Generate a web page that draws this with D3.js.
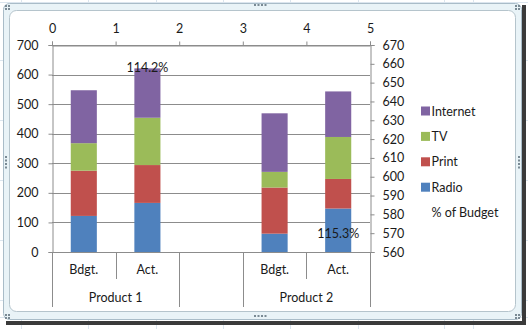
<!DOCTYPE html>
<html><head><meta charset="utf-8">
<script src="https://cdn.jsdelivr.net/npm/d3@7/dist/d3.min.js"></script>
<style>
html,body{margin:0;padding:0;background:#fff;}
svg{display:block;font-family:Lato,"Open Sans",sans-serif;}
</style></head>
<body>
<svg id="c" width="528" height="329"></svg>
<script>
// ---- data ----
const categories = ["Bdgt.", "Act.", "", "Bdgt.", "Act."];
const products = [
  {name: "Product 1", from: 0, to: 2},
  {name: "", from: 2, to: 3},
  {name: "Product 2", from: 3, to: 5}
];
const seriesNames = ["Radio", "Print", "TV", "Internet"];
const seriesColors = ["#4F81BD", "#C0504D", "#9BBB59", "#8064A2"];
const radio    = [122, 166, 0, 62, 147];
const print    = [153, 128, 0, 156, 100];
const tv       = [93, 160, 0, 53, 142];
const internet = [179, 167, 0, 198, 154];
const leftTicks = [0, 100, 200, 300, 400, 500, 600, 700];
const rightTicks = [560, 570, 580, 590, 600, 610, 620, 630, 640, 650, 660, 670];
const topTicks = [0, 1, 2, 3, 4, 5];
const pctX = [1.5, 4.5];
const pctY = [658, 570];
const pctLabels = ["114.2%", "115.3%"];
const legendOrder = ["Internet", "TV", "Print", "Radio"];

const svg = d3.select("#c");

// ---- worksheet background ----
const grid = svg.append("g").attr("stroke", "#dbe5ee").attr("stroke-width", 1);
[21, 88, 156, 223, 290, 358, 444, 473].forEach(x =>
  grid.append("line").attr("x1", x + .5).attr("x2", x + .5).attr("y1", 0).attr("y2", 329));
[2, 60, 120, 180, 240, 300, 317].forEach(y =>
  grid.append("line").attr("x1", 0).attr("x2", 528).attr("y1", y + .5).attr("y2", y + .5));

// shadow
svg.append("rect").attr("x", 6).attr("y", 321).attr("width", 520).attr("height", 4).attr("fill", "#3a3a3a");
svg.append("rect").attr("x", 522).attr("y", 5).attr("width", 4).attr("height", 320).attr("fill", "#3a3a3a");
// selection frame
svg.append("rect").attr("x", 3.5).attr("y", 3.5).attr("width", 518).attr("height", 316)
  .attr("rx", 6).attr("fill", "#e9f3f7").attr("stroke", "#a9bcc8");
// chart area
svg.append("rect").attr("x", 9.5).attr("y", 10.5).attr("width", 506).attr("height", 301)
  .attr("rx", 7).attr("fill", "#fff").attr("stroke", "#b5c4cc");
// handle dots
const dots = svg.append("g").attr("fill", "#7a8a94");
[[254, 4], [254, 315]].forEach(([x, y]) => { for (let i = 0; i < 4; i++) dots.append("rect").attr("x", x + i * 3.5).attr("y", y).attr("width", 2).attr("height", 2); });
[[5, 156], [518, 156]].forEach(([x, y]) => { for (let i = 0; i < 4; i++) dots.append("rect").attr("x", x).attr("y", y + i * 3.5).attr("width", 2).attr("height", 2); });
[[5, 5], [515, 5], [5, 314], [515, 314]].forEach(([x, y]) => {
  [[0, 0], [3, 0], [0, 3], [3, 3]].forEach(([dx, dy]) => dots.append("rect").attr("x", x + dx).attr("y", y + dy).attr("width", 2).attr("height", 2));
});

// ---- scales ----
const L = 52, R = 370, T = 45, B = 252;
const y = d3.scaleLinear().domain([0, 700]).range([B, T]);
const y2 = d3.scaleLinear().domain([560, 670]).range([B, T]);
const x2 = d3.scaleLinear().domain([0, 5]).range([L, R]);
const xb = d3.scaleBand().domain(d3.range(categories.length)).range([L, R]).padding(0);
const barW = xb.bandwidth() * 0.41;

const textCol = "#1a1a1a";
const gridCol = "#8c8c8c";

// gridlines
svg.append("g").selectAll("line").data(leftTicks).join("line")
  .attr("x1", L).attr("x2", R).attr("y1", d => Math.round(y(d)) + .5).attr("y2", d => Math.round(y(d)) + .5)
  .attr("stroke", gridCol).attr("stroke-width", 1);

// ---- bars ----
const table = categories.map((c, i) => ({i, Radio: radio[i], Print: print[i], TV: tv[i], Internet: internet[i]}));
const stack = d3.stack().keys(seriesNames)(table);
const color = d3.scaleOrdinal().domain(seriesNames).range(seriesColors);
svg.append("g").selectAll("g").data(stack).join("g").attr("fill", d => color(d.key))
  .selectAll("rect").data(d => d.filter(p => p[1] > p[0])).join("rect")
  .attr("x", p => xb(p.data.i) + (xb.bandwidth() - barW) / 2)
  .attr("width", barW)
  .attr("y", p => y(p[1]))
  .attr("height", p => y(p[0]) - y(p[1]));

// ---- left axis ----
const gl = svg.append("g").attr("transform", `translate(${L + .5},0)`)
  .call(d3.axisLeft(y).tickValues(leftTicks).tickSize(4).tickPadding(10));
// ---- right axis ----
const gr = svg.append("g").attr("transform", `translate(${R + .5},0)`)
  .call(d3.axisRight(y2).tickValues(rightTicks).tickSize(4).tickPadding(8));
// ---- top axis ----
const gt = svg.append("g").attr("transform", `translate(0,${T + .5})`)
  .call(d3.axisTop(x2).tickValues(topTicks).tickSize(4).tickPadding(9).tickFormat(d3.format("d")));
// ---- bottom category axis ----
const gb = svg.append("g").attr("transform", `translate(0,${B + .5})`)
  .call(d3.axisBottom(xb).tickSize(0).tickPadding(13).tickFormat(i => categories[i]));

[gl, gr, gt, gb].forEach(g => {
  g.select(".domain").attr("stroke", gridCol);
  g.selectAll(".tick line").attr("stroke", gridCol);
  g.selectAll("text").attr("fill", textCol).attr("font-size", 12.5).attr("font-family", "Lato, sans-serif");
});
gb.select(".domain").attr("d", `M${L},0H${R}`);

// category separators
const sep = svg.append("g").attr("stroke", gridCol);
const inner = [];
products.forEach(p => { for (let k = p.from + 1; k < p.to; k++) inner.push(k); });
const outer = [0].concat(products.map(p => p.to));
sep.selectAll("line.o").data(outer).join("line")
  .attr("x1", k => Math.round(x2(k)) + .5).attr("x2", k => Math.round(x2(k)) + .5)
  .attr("y1", B).attr("y2", 307);
sep.selectAll("line.i").data(inner).join("line")
  .attr("x1", k => Math.round(x2(k)) + .5).attr("x2", k => Math.round(x2(k)) + .5)
  .attr("y1", B).attr("y2", 279);
svg.append("g").selectAll("text").data(products).join("text")
  .attr("x", p => x2((p.from + p.to) / 2)).attr("y", 302)
  .attr("text-anchor", "middle").attr("font-size", 12.5).attr("fill", textCol)
  .text(p => p.name);

// ---- % of Budget labels ----
svg.append("g").selectAll("text").data(pctLabels).join("text")
  .attr("x", (d, i) => x2(pctX[i])).attr("y", (d, i) => y2(pctY[i]) + 4.5)
  .attr("text-anchor", "middle").attr("font-size", 12.5).attr("fill", textCol)
  .text(d => d);

// ---- legend ----
const lg = svg.append("g");
const legendItems = legendOrder.concat(["% of Budget"]);
legendItems.forEach((name, k) => {
  const cy = 111 + k * 25.4;
  if (seriesNames.includes(name)) {
    lg.append("rect").attr("x", 421).attr("y", cy - 4.5).attr("width", 9).attr("height", 9).attr("fill", color(name));
  }
  lg.append("text").attr("x", 431.5).attr("y", cy + 4.5).attr("font-size", 12.5).attr("fill", textCol).text(name);
});
</script>
</body></html>
